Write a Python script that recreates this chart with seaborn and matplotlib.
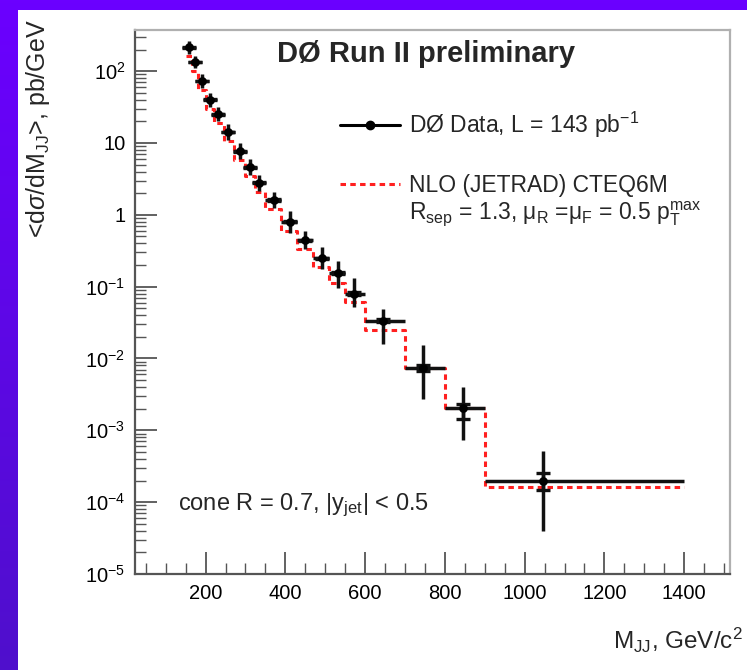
import matplotlib
matplotlib.use("Agg")
import matplotlib.pyplot as plt
import matplotlib.ticker as mticker
from matplotlib.lines import Line2D
from matplotlib.patches import Rectangle
import numpy as np
import pandas as pd
import seaborn as sns

# dijet mass bins (GeV/c^2) and measured points
bin_edges = [150, 165, 182, 202, 222, 245, 270, 300, 325, 350, 390, 430,
             470, 510, 550, 600, 700, 800, 900, 1400]
mass = [158, 174, 192, 212, 232, 257, 286, 311, 335, 372, 411, 449,
        491, 531, 571, 646, 746, 845, 1047]
xsec = [214, 135, 73, 40, 25, 14.2, 7.7, 4.6, 2.8, 1.61, 0.80, 0.44,
        0.248, 0.156, 0.080, 0.0337, 0.0074, 0.00202, 0.000197]
# total uncertainty band (lower / upper value)
tot_lo = [176, 111, 58.3, 31.9, 20.0, 11.0, 5.95, 3.55, 2.16, 1.24, 0.56, 0.33,
          0.174, 0.0963, 0.0516, 0.0158, 0.00276, 0.00073, 0.0000393]
tot_hi = [260, 164, 91.5, 50.1, 31.3, 18.4, 9.96, 5.95, 3.62, 2.08, 1.14, 0.59,
          0.353, 0.229, 0.133, 0.0495, 0.01556, 0.00406, 0.000516]
# statistical uncertainty (lower / upper value)
stat_lo = [212, 134, 72.4, 39.6, 24.7, 14.0, 7.6, 4.53, 2.75, 1.58, 0.785, 0.43,
           0.242, 0.151, 0.0770, 0.0322, 0.0068, 0.00144, 0.000146]
stat_hi = [216, 136, 73.6, 40.4, 25.3, 14.4, 7.8, 4.67, 2.85, 1.64, 0.815, 0.45,
           0.254, 0.161, 0.0830, 0.0352, 0.0080, 0.00230, 0.000255]
# NLO (JETRAD) CTEQ6M prediction per bin
nlo = [160, 102, 55, 30, 19, 10.8, 5.8, 3.5, 2.1, 1.2, 0.60, 0.33,
       0.19, 0.111, 0.062, 0.0252, 0.0073, 0.00205, 0.000162]

sns.set_theme(style="ticks")
plt.rcParams['font.family'] = ['Liberation Sans', 'DejaVu Sans']
plt.rcParams['mathtext.fontset'] = 'custom'
plt.rcParams['mathtext.rm'] = 'Liberation Sans'
plt.rcParams['mathtext.it'] = 'Liberation Sans:italic'
plt.rcParams['mathtext.bf'] = 'Liberation Sans:bold'

W, H = 747, 670
fig = plt.figure(figsize=(W / 100, H / 100), dpi=100)

# purple slide background with white panel
bg = fig.add_axes([0, 0, 1, 1])
grad = np.linspace(0, 1, 256).reshape(-1, 1)
top_c = np.array([0.42, 0.0, 1.0])
bot_c = np.array([0.31, 0.06, 0.80])
img = top_c[None, None, :] * (1 - grad[:, :, None]) + bot_c[None, None, :] * grad[:, :, None]
bg.imshow(img, extent=[0, 1, 0, 1], aspect='auto')
bg.add_patch(Rectangle((18 / W, 0), 1, 1 - 10 / H, transform=bg.transAxes,
                       facecolor='white', edgecolor='none'))
bg.set_xlim(0, 1)
bg.set_ylim(0, 1)
bg.axis('off')

ax_l, ax_r, ax_t, ax_b = 135, 730, 30, 574
ax = fig.add_axes([ax_l / W, 1 - ax_b / H, (ax_r - ax_l) / W, (ax_b - ax_t) / H])
ax.set_facecolor('white')

red = '#ff2020'
dash = (0, (1.8, 1.4))

# NLO histogram as a dashed step line
nlo_df = pd.DataFrame({'m': bin_edges, 'v': nlo + [nlo[-1]]})
sns.lineplot(data=nlo_df, x='m', y='v', ax=ax, drawstyle='steps-post',
             color=red, linewidth=2.2, linestyle=dash,
             estimator=None, sort=False, legend=False)

m = np.array(mass)
lo_edge = np.array(bin_edges[:-1])
hi_edge = np.array(bin_edges[1:])
y = np.array(xsec)
ax.errorbar(m, y, xerr=[m - lo_edge, hi_edge - m],
            yerr=[y - np.array(tot_lo), np.array(tot_hi) - y],
            fmt='none', ecolor='#111111', elinewidth=2.5, capsize=0, zorder=4)
ax.errorbar(m, y, yerr=[y - np.array(stat_lo), np.array(stat_hi) - y],
            fmt='none', ecolor='#111111', elinewidth=2.5, capsize=5, capthick=2.4, zorder=4)
sns.scatterplot(x=mass, y=xsec, ax=ax, color='black', s=40, marker='o',
                linewidth=0, zorder=5, legend=False)

ax.set_yscale('log')
ax.set_xlim(23, 1515)
ax.set_ylim(1e-5, 374)

ax.xaxis.set_major_locator(mticker.MultipleLocator(200))
ax.xaxis.set_minor_locator(mticker.MultipleLocator(50))
ax.yaxis.set_major_locator(mticker.LogLocator(base=10, numticks=20))
ax.yaxis.set_minor_locator(mticker.LogLocator(base=10, subs=np.arange(2, 10), numticks=20))
ax.yaxis.set_minor_formatter(mticker.NullFormatter())


def ylab(v, pos):
    e = int(round(np.log10(v)))
    if e == 0:
        return '1'
    if e == 1:
        return '10'
    return r'10$^{%d}$' % e


ax.yaxis.set_major_formatter(mticker.FuncFormatter(ylab))
ax.xaxis.set_major_formatter(mticker.FuncFormatter(lambda v, p: '%d' % v))

ax.tick_params(which='major', direction='in', length=16, width=1.3, color='#555555',
               labelsize=14.5, labelcolor='black', pad=7, top=False, right=False)
ax.tick_params(which='minor', direction='in', length=8, width=1.0, color='#555555',
               top=False, right=False)
for side in ['left', 'bottom']:
    ax.spines[side].set_color('#555555')
    ax.spines[side].set_linewidth(1.6)
for side in ['top', 'right']:
    ax.spines[side].set_color('#b0b0b0')
    ax.spines[side].set_linewidth(1.6)

ax.set_xlabel(r'M$_{\rm JJ}$, GeV/c$^{2}$', fontsize=17.5, loc='right')
ax.xaxis.set_label_coords(1.022, -0.095)
ax.set_ylabel(r'<d$\sigma$/dM$_{\rm JJ}$>, pb/GeV', fontsize=18, loc='top')
ax.yaxis.set_label_coords(-0.14, 1.02)

ax.text(0.489, 0.955, 'DØ Run II preliminary', transform=ax.transAxes,
        fontsize=21, fontweight='bold', ha='center', va='center')
ax.text(0.072, 0.127, r'cone R = 0.7, |y$_{\rm jet}$| < 0.5', transform=ax.transAxes,
        fontsize=17, ha='left', va='center')

h_data = Line2D([], [], color='black', linewidth=2.2, marker='o', markersize=6)
leg1 = ax.legend([h_data], [r'DØ Data, L = 143 pb$^{-1}$'], loc='center left',
                 bbox_to_anchor=(0.345, 0.825), frameon=False, fontsize=16.5,
                 handlelength=2.6, handletextpad=0.4, borderpad=0, borderaxespad=0)
ax.add_artist(leg1)
h_nlo = Line2D([], [], color=red, linewidth=2.2, linestyle=dash)
h_blank = Line2D([], [], color='none')
ax.legend([h_nlo, h_blank],
          ['NLO (JETRAD) CTEQ6M',
           r'R$_{\rm sep}$ = 1.3, μ$_{\rm R}$ =μ$_{\rm F}$ = 0.5 p$_{\rm T}^{\rm max}$'],
          loc='center left', bbox_to_anchor=(0.345, 0.685), frameon=False, fontsize=16.5,
          handlelength=2.6, handletextpad=0.4, borderpad=0, borderaxespad=0,
          labelspacing=0.1)

fig.savefig('out.png', dpi=100)
plt.close(fig)
